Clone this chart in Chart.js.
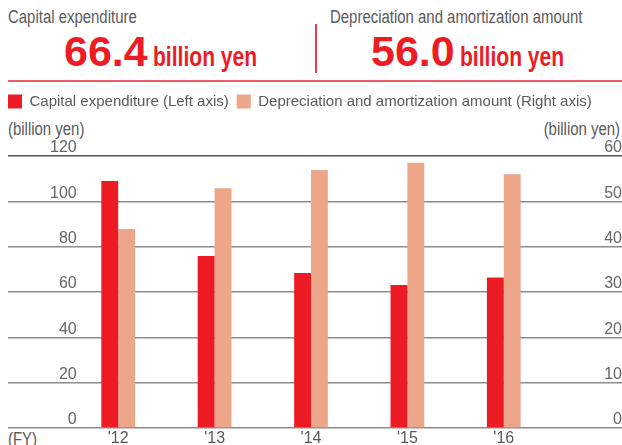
<!DOCTYPE html>
<html>
<head>
<meta charset="utf-8">
<script src="https://cdn.jsdelivr.net/npm/chart.js@4.4.1/dist/chart.umd.min.js"></script>
<style>
    html, body { margin: 0; padding: 0; background: #fff; }
    body { width: 622px; height: 445px; position: relative; overflow: hidden;
           font-family: 'Liberation Sans', Arial, sans-serif; color: #5a5a5a; }
    .abs { position: absolute; white-space: nowrap; }
    .cond { display: inline-block; transform: scaleX(0.83); transform-origin: left top; }
    .cond.r { transform-origin: right top; }
    .head { font-size: 18px; line-height: 18px; }
    .big { font-weight: bold; font-size: 43px; line-height: 43px; color: #ed1c24; }
    .big .cond { font-size: 27px; margin-left: 5px; transform: scaleX(0.78); }
    .unit { font-size: 18px; line-height: 18px; }
    #chart { position: absolute; left: 0; top: 0; }
</style>
</head>
<body>
<div class="abs head" style="left:8px; top:8px;"><span class="cond">Capital expenditure</span></div>
<div class="abs big" style="left:64px; top:30px;">66.4<span class="cond">billion yen</span></div>
<div class="abs" style="left:315px; top:24px; width:1.5px; height:49px; background:#ee3c48;"></div>
<div class="abs head" style="left:330px; top:8px;"><span class="cond">Depreciation and amortization amount</span></div>
<div class="abs big" style="left:371px; top:30px;">56.0<span class="cond">billion yen</span></div>
<div class="abs" style="left:8px; right:0; top:80px; height:1.5px; background:#f05a64;"></div>
<div class="abs unit" style="left:8px; top:120px;"><span class="cond">(billion yen)</span></div>
<div class="abs unit" style="right:2px; top:120px;"><span class="cond r">(billion yen)</span></div>
<div class="abs unit" style="left:8px; top:430px;"><span class="cond">(FY)</span></div>
<canvas id="chart" width="622" height="445"></canvas>
<script>
const years = ["'12", "'13", "'14", "'15", "'16"];
const capex = [109.0, 75.9, 68.4, 63.1, 66.4];
const depreciation = [43.9, 52.9, 56.9, 58.5, 56.0];
const leftAxis = { min: 0, max: 120, step: 20 };
const rightAxis = { min: 0, max: 60, step: 10 };

const plain = "'Liberation Sans', Arial, sans-serif";

// grid colour: darker line at the top
function gridColor(ctx) {
    return ctx.tick && ctx.tick.value === ctx.scale.max ? '#555555' : '#8c8c8c';
}

// push the chart area down under the legend
const legendSpace = {
    id: 'legendSpace',
    beforeUpdate(chart) {
        const lg = chart.legend;
        if (lg && !lg._patched) {
            const fit = lg.fit;
            lg.fit = function () {
                fit.call(this);
                this.height = 70;
            };
            lg._patched = true;
        }
    }
};

new Chart(document.getElementById('chart'), {
    type: 'bar',
    data: {
        labels: years,
        datasets: [
            {
                label: 'Capital expenditure (Left axis)',
                data: capex,
                backgroundColor: '#ed1c24',
                borderWidth: 0,
                yAxisID: 'y'
            },
            {
                label: 'Depreciation and amortization amount (Right axis)',
                data: depreciation,
                backgroundColor: '#eda68a',
                borderWidth: 0,
                yAxisID: 'y2'
            }
        ]
    },
    options: {
        responsive: false,
        animation: false,
        layout: { padding: { top: 86, left: 0, right: 0, bottom: 0 } },
        datasets: { bar: { categoryPercentage: 0.35, barPercentage: 1 } },
        plugins: {
            legend: {
                position: 'top',
                align: 'start',
                labels: {
                    boxWidth: 14,
                    boxHeight: 14,
                    padding: 8,
                    color: '#5a5a5a',
                    font: { family: plain, size: 15 }
                }
            },
            tooltip: { enabled: false }
        },
        scales: {
            x: {
                type: 'category',
                offset: true,
                grid: { display: false, drawTicks: false },
                border: { display: false },
                ticks: { color: '#5a5a5a', padding: 1, font: { family: plain, size: 16 } },
                afterFit(scale) { scale.height = 17; }
            },
            y: {
                position: 'left',
                min: leftAxis.min,
                max: leftAxis.max,
                border: { display: false },
                grid: { color: gridColor, lineWidth: 1.5, tickLength: 62 },
                ticks: {
                    stepSize: leftAxis.step,
                    align: 'end',
                    mirror: true,
                    crossAlign: 'far',
                    padding: -20,
                    color: '#666666',
                    font: { family: plain, size: 16 }
                },
                afterFit(scale) { scale.width = 70; }
            },
            y2: {
                position: 'right',
                min: rightAxis.min,
                max: rightAxis.max,
                border: { display: false },
                grid: { color: gridColor, lineWidth: 1.5, tickLength: 70, drawOnChartArea: false },
                ticks: {
                    stepSize: rightAxis.step,
                    align: 'end',
                    crossAlign: 'far',
                    padding: -60,
                    color: '#666666',
                    font: { family: plain, size: 16 }
                },
                afterFit(scale) { scale.width = 70; }
            }
        }
    },
    plugins: [legendSpace]
});
</script>
</body>
</html>
